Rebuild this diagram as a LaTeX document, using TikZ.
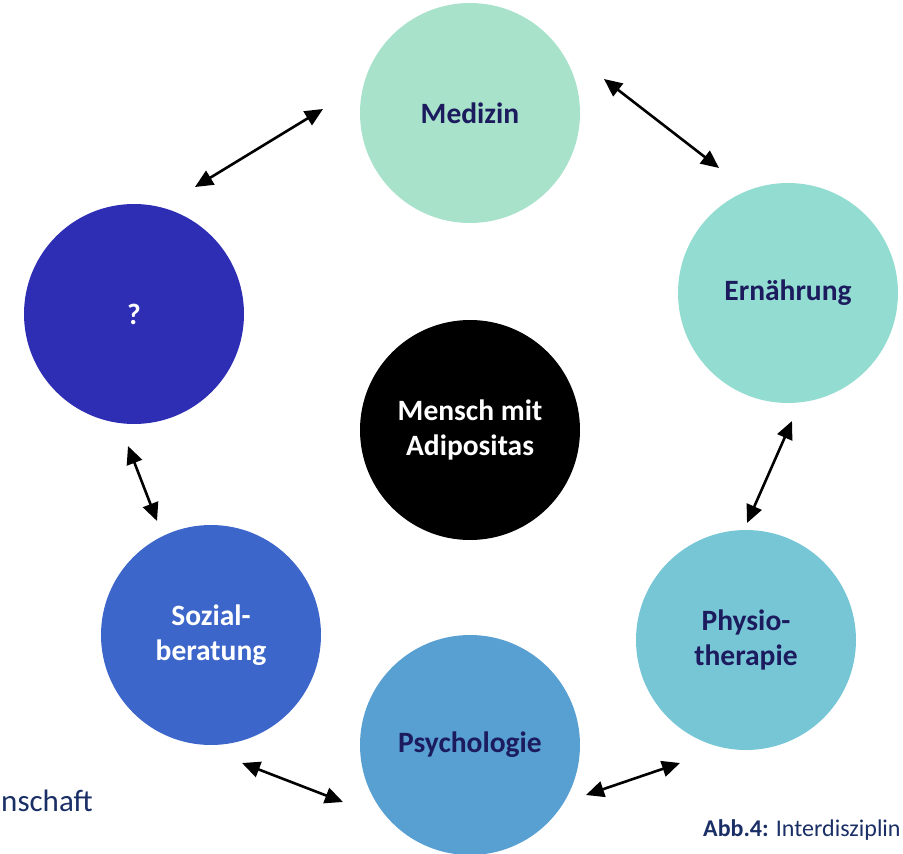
\documentclass[tikz,border=0pt]{standalone}
\usepackage{fontspec}
\setmainfont{Carlito}
\usetikzlibrary{arrows.meta}
\definecolor{cMed}{HTML}{A8E2CB}
\definecolor{cErn}{HTML}{93DCD1}
\definecolor{cPhy}{HTML}{77C6D6}
\definecolor{cPsy}{HTML}{589FD2}
\definecolor{cSoz}{HTML}{3D66CB}
\definecolor{cQ}{HTML}{2E2EB5}
\definecolor{navy}{HTML}{1B1B5E}
\definecolor{capnavy}{HTML}{1A2F66}
\tikzset{
  disc/.style={circle, minimum size=220pt, inner sep=0pt, draw=none, align=center,
    font=\fontsize{29.5}{35}\selectfont\bfseries},
  dark/.style={text=navy},
  light/.style={text=white},
  biarrow/.style={line width=2.6pt, black, {Triangle[length=18pt,width=16pt]}-{Triangle[length=18pt,width=16pt]}},
}
\begin{document}
\begin{tikzpicture}[x=1pt,y=-1pt]
\useasboundingbox (0,0) rectangle (903,854);
\node[disc, dark, fill=cMed] (med) at (470,113) {Medizin};
\node[disc, dark, fill=cErn] (ern) at (788,293) {Ernährung};
\node[disc, dark, fill=cPhy] (phy) at (746,640) {Physio-\\therapie};
\node[disc, dark, fill=cPsy] (psy) at (470,745) {Psychologie};
\node[disc, light, fill=cSoz] (soz) at (211,635) {Sozial-\\beratung};
\node[disc, light, fill=cQ] (q) at (134,314) {?};
\node[disc, light, fill=black] (mensch) at (470,430) {Mensch mit\\Adipositas};
% arrow end points
\coordinate (a1) at (195,187); \coordinate (b1) at (323,109);
\coordinate (a2) at (604,79);  \coordinate (b2) at (719,168);
\coordinate (a3) at (792,421); \coordinate (b3) at (747,523);
\coordinate (a4) at (680,763); \coordinate (b4) at (586,795);
\coordinate (a5) at (343,802); \coordinate (b5) at (242,763);
\coordinate (a6) at (157,521); \coordinate (b6) at (128,446);
\draw[biarrow] (a1) -- (b1);
\draw[biarrow] (a2) -- (b2);
\draw[biarrow] (a3) -- (b3);
\draw[biarrow] (a4) -- (b4);
\draw[biarrow] (a5) -- (b5);
\draw[biarrow] (a6) -- (b6);
% texts
\node[anchor=base east, inner sep=0pt, text=capnavy, font=\fontsize{31}{36}\selectfont] (wiss) at (93,811) {nschaft};
\node[anchor=base west, inner sep=0pt, text=capnavy, font=\fontsize{24}{28}\selectfont] (cap) at (703,836) {\textbf{Abb.4:} Interdisziplin};
\end{tikzpicture}
\end{document}
